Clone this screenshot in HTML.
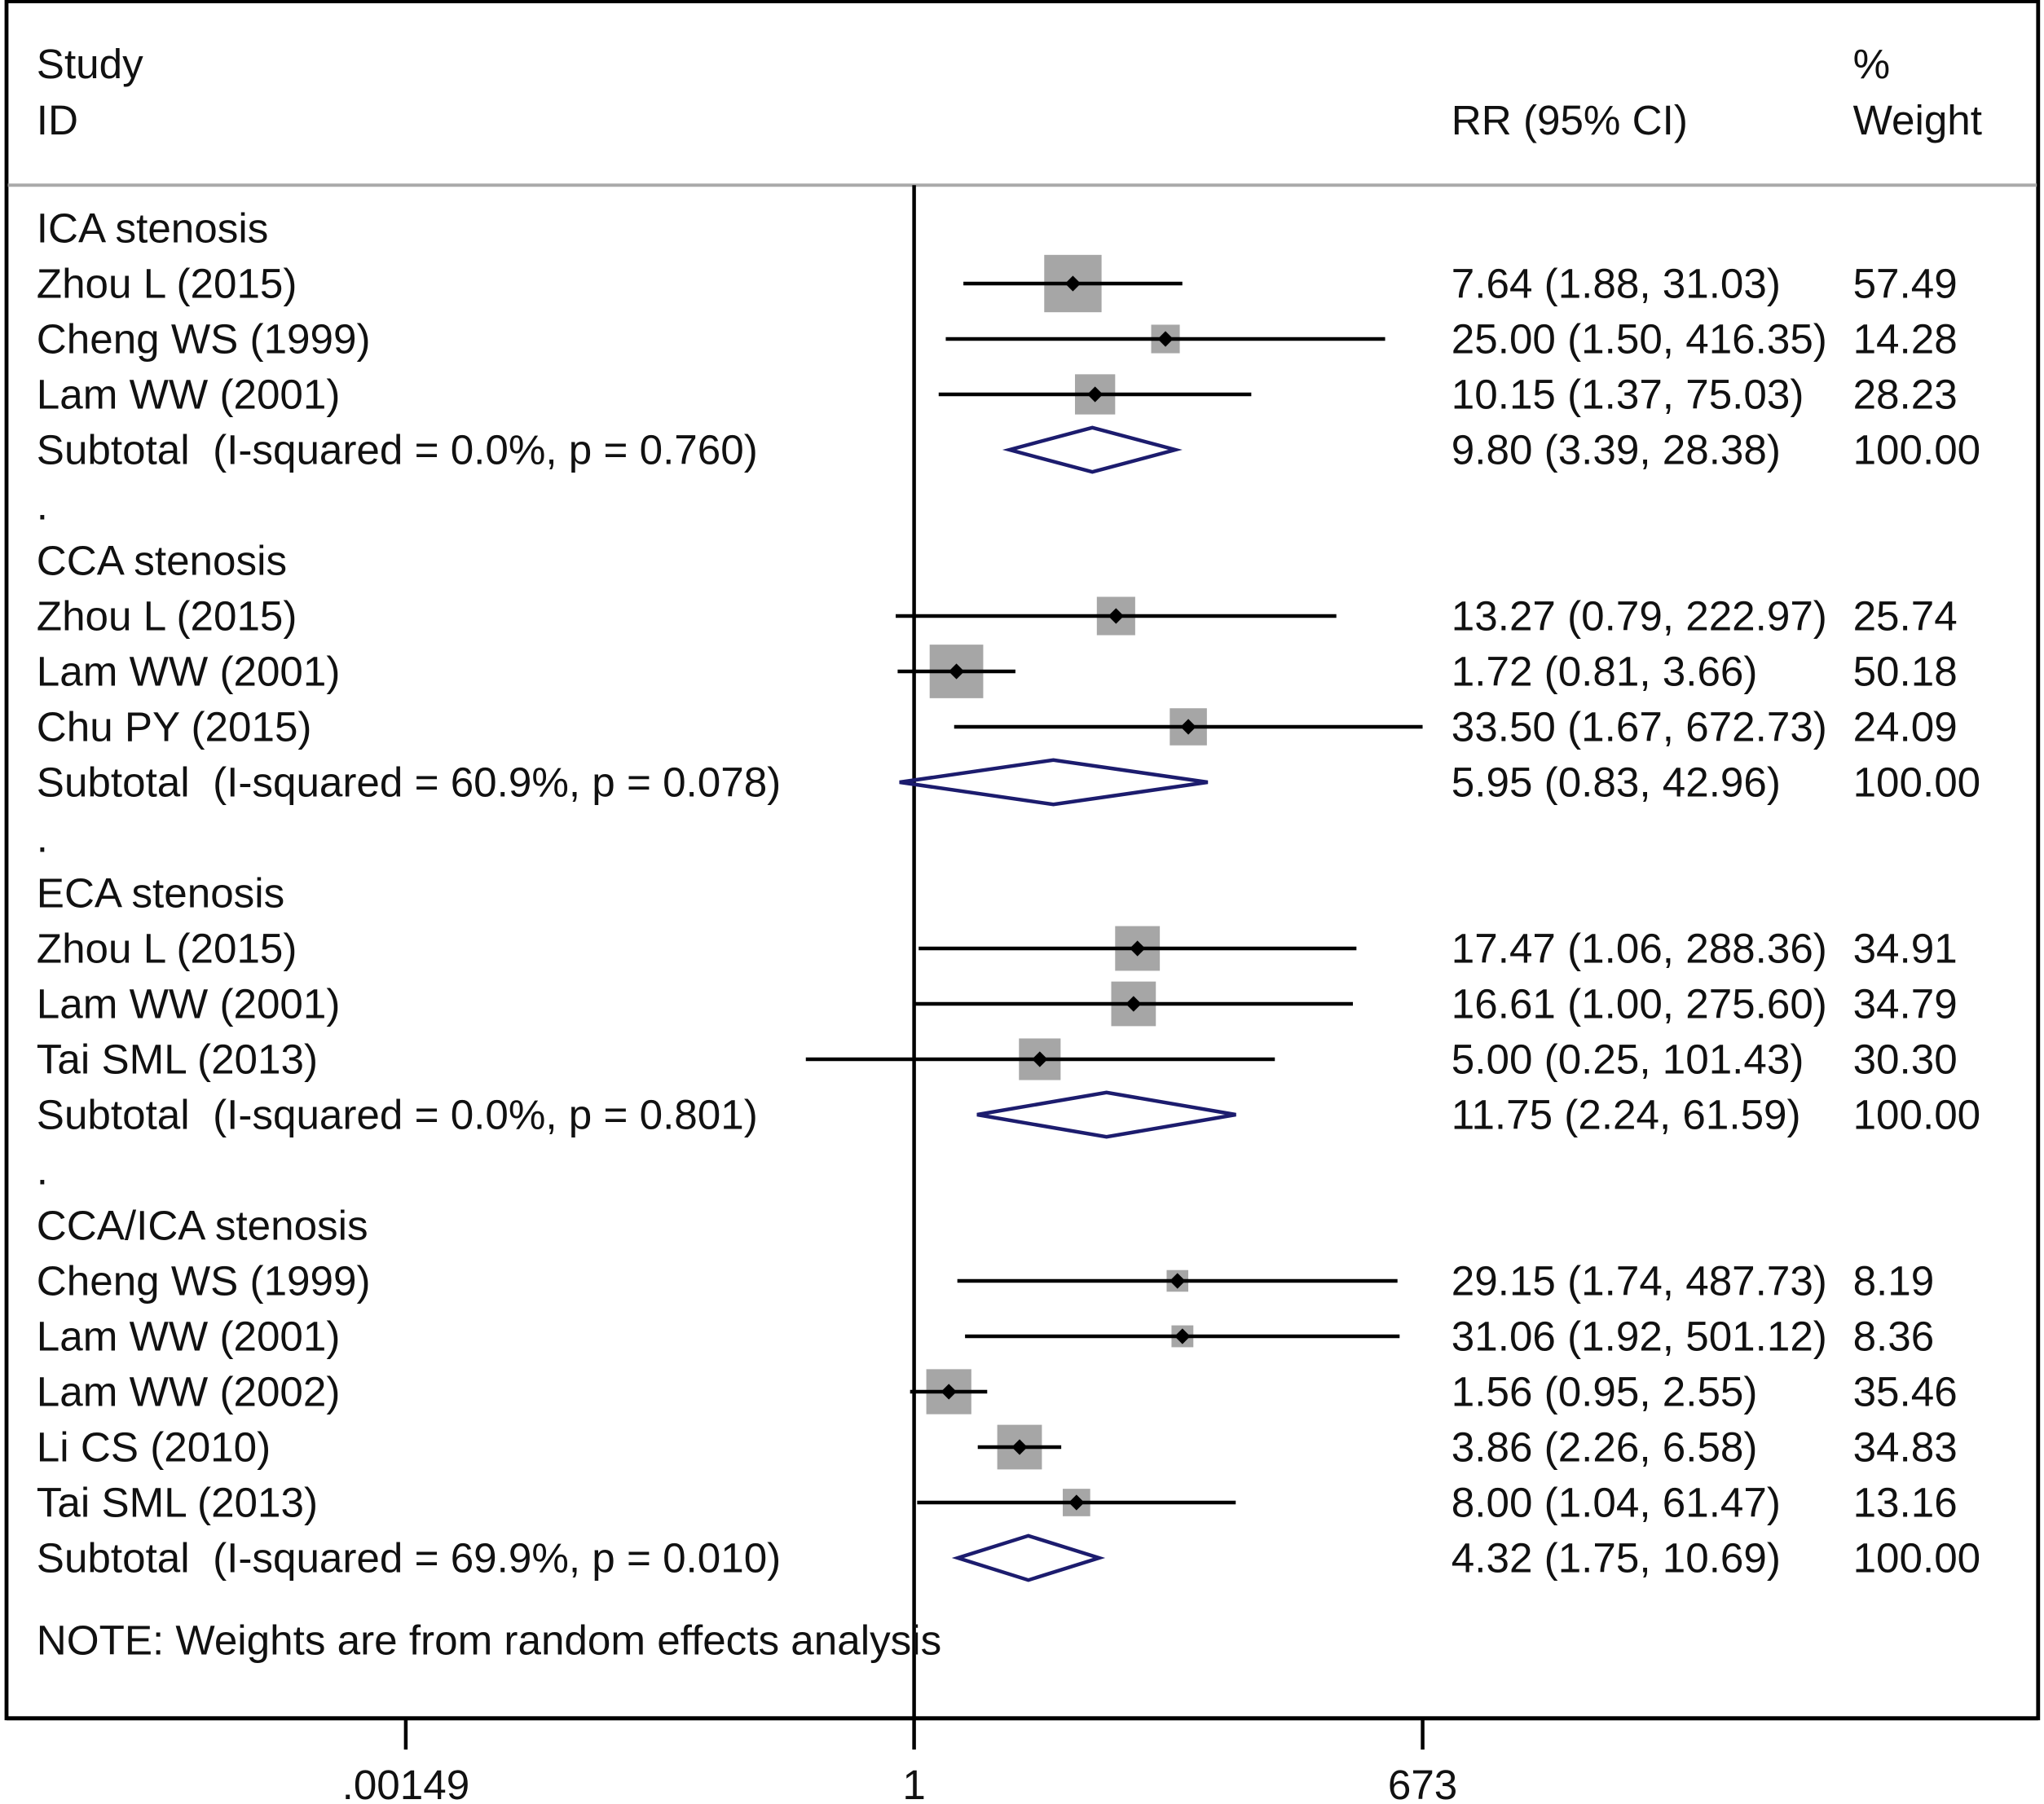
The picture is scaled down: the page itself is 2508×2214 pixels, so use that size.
<!DOCTYPE html>
<html><head><meta charset="utf-8"><style>
html,body{margin:0;padding:0;background:#fff}
svg{display:block}
text{font-family:"Liberation Sans",Arial,sans-serif;fill:#111;white-space:pre}
</style></head><body>
<svg id="chart" width="2508" height="2214" viewBox="0 0 1567.5 1383.75" xmlns="http://www.w3.org/2000/svg" xml:space="preserve">
<rect x="5" y="1" width="1558" height="1317" fill="none" stroke="#000" stroke-width="3"/>
<line x1="6" y1="142" x2="1562" y2="142" stroke="#aaa" stroke-width="2.5"/>
<g id="hdr">
<text x="28" y="60" font-size="32">Study</text>
<text x="28" y="103" font-size="32">ID</text>
<text x="1113" y="103" font-size="32">RR (95% CI)</text>
<text x="1421" y="60" font-size="32">%</text>
<text x="1421" y="103" font-size="32">Weight</text>
</g>
<g id="marks"></g>
<text x="28" y="1269" font-size="32">NOTE: Weights are from random effects analysis</text>
</svg>
<script>
const labels=["ICA stenosis","Zhou L (2015)","Cheng WS (1999)","Lam WW (2001)","Subtotal  (I-squared = 0.0%, p = 0.760)",".",
"CCA stenosis","Zhou L (2015)","Lam WW (2001)","Chu PY (2015)","Subtotal  (I-squared = 60.9%, p = 0.078)",".",
"ECA stenosis","Zhou L (2015)","Lam WW (2001)","Tai SML (2013)","Subtotal  (I-squared = 0.0%, p = 0.801)",".",
"CCA/ICA stenosis","Cheng WS (1999)","Lam WW (2001)","Lam WW (2002)","Li CS (2010)","Tai SML (2013)","Subtotal  (I-squared = 69.9%, p = 0.010)"];
const kinds=["h","s","s","s","d","g","h","s","s","s","d","g","h","s","s","s","d","g","h","s","s","s","s","s","d"];
const est=[null,7.64,25.00,10.15,9.80,null,null,13.27,1.72,33.50,5.95,null,null,17.47,16.61,5.00,11.75,null,null,29.15,31.06,1.56,3.86,8.00,4.32];
const lo=[null,1.88,1.50,1.37,3.39,null,null,0.79,0.81,1.67,0.83,null,null,1.06,1.00,0.25,2.24,null,null,1.74,1.92,0.95,2.26,1.04,1.75];
const hi=[null,31.03,416.35,75.03,28.38,null,null,222.97,3.66,672.73,42.96,null,null,288.36,275.60,101.43,61.59,null,null,487.73,501.12,2.55,6.58,61.47,10.69];
const weights=[null,57.49,14.28,28.23,100,null,null,25.74,50.18,24.09,100,null,null,34.91,34.79,30.30,100,null,null,8.19,8.36,35.46,34.83,13.16,100];
const tickVals=[0.00149,1,673];
const tickLabels=[".00149","1","673"];
const NS="http://www.w3.org/2000/svg";
const X0=701, PXDEC=137.9;
function xs(v){return X0+Math.log10(v)*PXDEC;}
function ys(i){return 175+42.5*i;}
const g=document.getElementById('marks');
function mk(t,a,p){const e=document.createElementNS(NS,t);for(const k in a)e.setAttribute(k,a[k]);(p||g).appendChild(e);return e;}
const nl=mk('line',{x1:X0,y1:142,x2:X0,y2:1318,stroke:'#000','stroke-width':2.8});


const ax=mk('line',{x1:5,y1:1318,x2:1563,y2:1318,stroke:'#000','stroke-width':3});


tickVals.forEach((v,k)=>{
  const t=mk('line',{x1:xs(v),y1:1318,x2:xs(v),y2:1342,stroke:'#000','stroke-width':2.8});
  
  
  const l=mk('text',{x:xs(v),y:1380,'font-size':32,'text-anchor':'middle'});
  l.textContent=tickLabels[k];
  
  
});
labels.forEach((lab,i)=>{
  const y=ys(i);
  const t=mk('text',{x:28,y:y+11,'font-size':32});
  t.textContent=lab;
  
  
  if(kinds[i]==='s'){
    const w=Math.sqrt(weights[i])*5.8;
    const b=mk('rect',{x:xs(est[i])-w/2,y:y-w/2,width:w,height:w,fill:'#a6a6a6'});
    
    
    const c=mk('line',{x1:xs(lo[i]),y1:y,x2:xs(hi[i]),y2:y,stroke:'#000','stroke-width':2.8});
    
    
    const d=mk('path',{d:`M${xs(est[i])-6} ${y} L${xs(est[i])} ${y-6} L${xs(est[i])+6} ${y} L${xs(est[i])} ${y+6}Z`,fill:'#000'});
    
    
  } else if(kinds[i]==='d'){
    const p=mk('path',{d:`M${xs(lo[i])} ${y} L${xs(est[i])} ${y-17} L${xs(hi[i])} ${y} L${xs(est[i])} ${y+17}Z`,fill:'none',stroke:'#1c1c6e','stroke-width':2.8});
    
    
  }
  if(kinds[i]==='s'||kinds[i]==='d'){
    const r=mk('text',{x:1113,y:y+11,'font-size':32});
    r.textContent=`${est[i].toFixed(2)} (${lo[i].toFixed(2)}, ${hi[i].toFixed(2)})`;
    
    
    const wt=mk('text',{x:1421,y:y+11,'font-size':32});
    wt.textContent=weights[i].toFixed(2);
    
    
  }
});
</script>
</body></html>
